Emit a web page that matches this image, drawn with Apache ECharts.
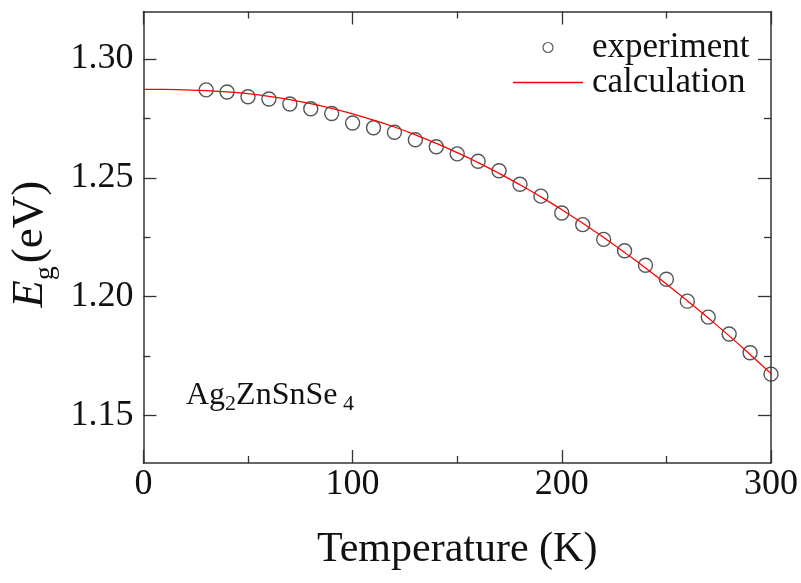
<!DOCTYPE html>
<html>
<head>
<meta charset="utf-8">
<script src="https://cdn.jsdelivr.net/npm/echarts@6/dist/echarts.min.js"></script>
<style>
html,body{margin:0;padding:0;background:#fff;}
#chart{width:801px;height:583px;}
</style>
</head>
<body>
<div id="chart"></div>
<script>
// ---- data ----
var tempExp = [30,40,50,60,70,80,90,100,110,120,130,140,150,160,170,180,190,200,210,220,230,240,250,260,270,280,290,300];
var egExp   = [1.2870,1.2861,1.2841,1.2832,1.2811,1.2791,1.2771,1.2731,1.2711,1.2692,1.2660,1.2631,1.2601,1.2570,1.2530,1.2473,1.2423,1.2352,1.2303,1.2241,1.2193,1.2132,1.2073,1.1981,1.1914,1.1843,1.1764,1.1674];
var tempCalc = [0,10,20,30,40,50,60,70,80,90,100,110,120,130,140,150,160,170,180,190,200,210,220,230,240,250,260,270,280,290,300];
var egCalc   = [1.2872,1.2872,1.2870,1.2867,1.2862,1.2854,1.2843,1.2829,1.2812,1.2792,1.2769,1.2743,1.2714,1.2681,1.2645,1.2606,1.2564,1.2519,1.2471,1.2420,1.2366,1.2309,1.2249,1.2186,1.2121,1.2053,1.1983,1.1910,1.1835,1.1757,1.1676];
var yLabelValues = [1.15,1.20,1.25,1.30];
var yMinorValues = [1.175,1.225,1.275];
var seriesNames = ['experiment','calculation'];

var FONT = '"Liberation Serif","Times New Roman",serif';
var AXIS_COLOR = '#333';
var expPairs = tempExp.map(function(t,i){return [t, egExp[i]];});
var calcPairs = tempCalc.map(function(t,i){return [t, egCalc[i]];});

function xAx(pos, showLabel){
  return {
    type:'value', position:pos, min:0, max:300, interval:100,
    axisLine:{show:true, onZero:false, lineStyle:{color:AXIS_COLOR, width:1.5}},
    axisTick:{show:true, inside:true, length:13, lineStyle:{color:AXIS_COLOR, width:1.3}},
    minorTick:{show:true, splitNumber:2, length:7, lineStyle:{color:AXIS_COLOR, width:1.3}},
    axisLabel:{show:showLabel, fontFamily:FONT, fontSize:36, color:'#111', margin:4},
    splitLine:{show:false},
    name: showLabel ? 'Temperature (K)' : '',
    nameLocation:'middle', nameGap:66,
    nameTextStyle:{fontFamily:FONT, fontSize:42, color:'#111'}
  };
}
function yAx(pos, vals, len, showLine, showLabel){
  var a = {
    type:'value', position:pos, min:1.13, max:1.32,
    axisLine:{show:showLine, onZero:false, lineStyle:{color:AXIS_COLOR, width:1.5}},
    axisTick:{show:true, inside:true, length:len, customValues:vals, lineStyle:{color:AXIS_COLOR, width:1.3}},
    axisLabel:{show:showLabel, customValues:vals, formatter:function(v){return v.toFixed(2);}, fontFamily:FONT, fontSize:36, color:'#111', margin:10},
    splitLine:{show:false}
  };
  if (showLabel) {
    a.name = '{e|E}{g|g} {t|(eV)}';
    a.nameLocation = 'middle';
    a.nameGap = 80;
    a.nameTextStyle = {
      fontFamily:FONT, color:'#111', padding:[0,14,0,0],
      rich:{
        e:{fontFamily:FONT, fontSize:45, fontStyle:'italic', color:'#111'},
        g:{fontFamily:FONT, fontSize:28, color:'#111', padding:[30,0,0,0]},
        t:{fontFamily:FONT, fontSize:45, color:'#111'}
      }
    };
  }
  return a;
}

var chart = echarts.init(document.getElementById('chart'), null, {renderer:'canvas'});
chart.setOption({
  animation:false,
  backgroundColor:'#fff',
  grid:{left:141, right:30, top:11.5, bottom:120, containLabel:false},
  xAxis:[xAx('bottom', true), xAx('top', false)],
  yAxis:[
    yAx('left', yLabelValues, 13, true, true),
    yAx('left', yMinorValues, 7, false, false),
    yAx('right', yLabelValues, 13, true, false),
    yAx('right', yMinorValues, 7, false, false)
  ],
  legend:{
    orient:'vertical', left:508, top:25, align:'left',
    itemWidth:70, itemHeight:10, itemGap:0,
    textStyle:{fontFamily:FONT, fontSize:35, color:'#111', lineHeight:34, padding:[0,0,0,4]},
    data:[
      {name:seriesNames[0], icon:'circle', itemStyle:{color:'rgba(0,0,0,0)', borderColor:'#333', borderWidth:1.2}},
      {name:seriesNames[1], icon:'path://M0,0L70,0L70,1.3L0,1.3Z', itemStyle:{color:'#ff0000', borderWidth:0}}
    ]
  },
  graphic:[{
    type:'text', left:186, top:380,
    style:{
      text:'{m|Ag}{s|2}{m|ZnSnSe}{s| 4}',
      rich:{
        m:{fontFamily:FONT, fontSize:32, fill:'#111'},
        s:{fontFamily:FONT, fontSize:22, fill:'#111', padding:[16,0,0,0]}
      }
    }
  }],
  series:[
    {
      name:seriesNames[0], type:'scatter', xAxisIndex:0, yAxisIndex:0,
      data:expPairs, symbol:'circle', symbolSize:14, z:2,
      itemStyle:{color:'rgba(0,0,0,0)', borderColor:'#2a2a2a', borderWidth:1.4}
    },
    {
      name:seriesNames[1], type:'line', xAxisIndex:0, yAxisIndex:0,
      data:calcPairs, smooth:true, showSymbol:false, symbol:'none', z:3,
      lineStyle:{color:'#ff0000', width:1.3}, itemStyle:{color:'#ff0000'}
    }
  ]
});
</script>
</body>
</html>
